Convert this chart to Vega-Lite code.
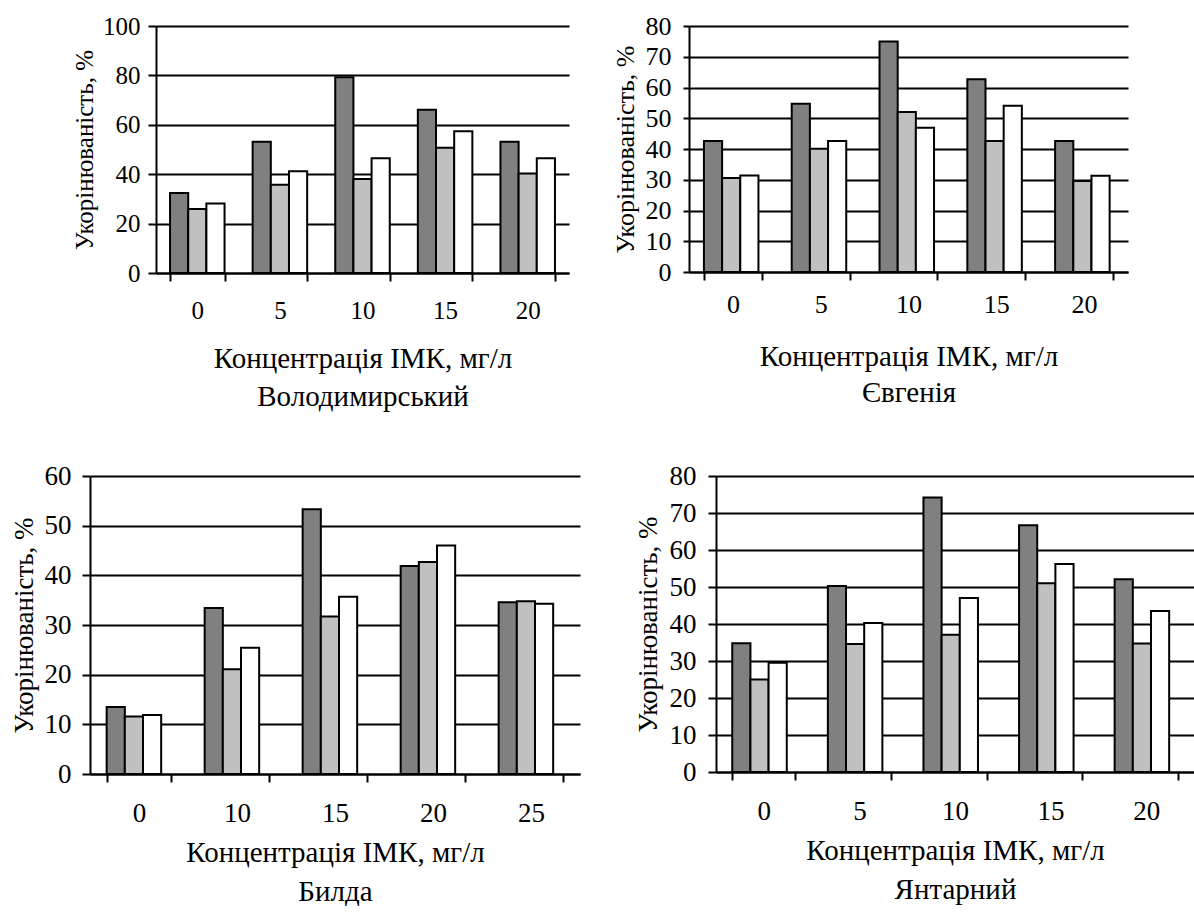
{
  "$schema": "https://vega.github.io/schema/vega-lite/v6.json",
  "background": "white",
  "padding": {"left": 10, "top": 13, "right": 0, "bottom": 0},
  "config": {
    "view": {"stroke": null},
    "font": "Liberation Serif",
    "axis": {
      "labelFont": "Liberation Serif",
      "titleFont": "Liberation Serif",
      "labelColor": "black",
      "titleColor": "black",
      "titleFontWeight": "normal",
      "domainColor": "black",
      "domainWidth": 2,
      "tickColor": "black",
      "tickWidth": 2,
      "gridColor": "black",
      "gridWidth": 2,
      "gridOpacity": 1
    },
    "bar": {"stroke": "black", "strokeWidth": 2}
  },
  "datasets": {
    "d": [
      {"panel": "Володимирський", "conc": 0, "series": "s1", "value": 32.4},
      {"panel": "Володимирський", "conc": 0, "series": "s2", "value": 25.9},
      {"panel": "Володимирський", "conc": 0, "series": "s3", "value": 28.1},
      {"panel": "Володимирський", "conc": 5, "series": "s1", "value": 53.1},
      {"panel": "Володимирський", "conc": 5, "series": "s2", "value": 35.7},
      {"panel": "Володимирський", "conc": 5, "series": "s3", "value": 41.2},
      {"panel": "Володимирський", "conc": 10, "series": "s1", "value": 79.3},
      {"panel": "Володимирський", "conc": 10, "series": "s2", "value": 38.1},
      {"panel": "Володимирський", "conc": 10, "series": "s3", "value": 46.5},
      {"panel": "Володимирський", "conc": 15, "series": "s1", "value": 66.1},
      {"panel": "Володимирський", "conc": 15, "series": "s2", "value": 50.7},
      {"panel": "Володимирський", "conc": 15, "series": "s3", "value": 57.4},
      {"panel": "Володимирський", "conc": 20, "series": "s1", "value": 53.1},
      {"panel": "Володимирський", "conc": 20, "series": "s2", "value": 40.3},
      {"panel": "Володимирський", "conc": 20, "series": "s3", "value": 46.5},
      {"panel": "Євгенія", "conc": 0, "series": "s1", "value": 42.6},
      {"panel": "Євгенія", "conc": 0, "series": "s2", "value": 30.6},
      {"panel": "Євгенія", "conc": 0, "series": "s3", "value": 31.4},
      {"panel": "Євгенія", "conc": 5, "series": "s1", "value": 54.7},
      {"panel": "Євгенія", "conc": 5, "series": "s2", "value": 40.1},
      {"panel": "Євгенія", "conc": 5, "series": "s3", "value": 42.6},
      {"panel": "Євгенія", "conc": 10, "series": "s1", "value": 75.0},
      {"panel": "Євгенія", "conc": 10, "series": "s2", "value": 52.0},
      {"panel": "Євгенія", "conc": 10, "series": "s3", "value": 46.9},
      {"panel": "Євгенія", "conc": 15, "series": "s1", "value": 62.7},
      {"panel": "Євгенія", "conc": 15, "series": "s2", "value": 42.6},
      {"panel": "Євгенія", "conc": 15, "series": "s3", "value": 54.1},
      {"panel": "Євгенія", "conc": 20, "series": "s1", "value": 42.6},
      {"panel": "Євгенія", "conc": 20, "series": "s2", "value": 29.6},
      {"panel": "Євгенія", "conc": 20, "series": "s3", "value": 31.3},
      {"panel": "Билда", "conc": 0, "series": "s1", "value": 13.5},
      {"panel": "Билда", "conc": 0, "series": "s2", "value": 11.6},
      {"panel": "Билда", "conc": 0, "series": "s3", "value": 11.9},
      {"panel": "Билда", "conc": 10, "series": "s1", "value": 33.4},
      {"panel": "Билда", "conc": 10, "series": "s2", "value": 21.1},
      {"panel": "Билда", "conc": 10, "series": "s3", "value": 25.4},
      {"panel": "Билда", "conc": 15, "series": "s1", "value": 53.3},
      {"panel": "Билда", "conc": 15, "series": "s2", "value": 31.7},
      {"panel": "Билда", "conc": 15, "series": "s3", "value": 35.7},
      {"panel": "Билда", "conc": 20, "series": "s1", "value": 41.9},
      {"panel": "Билда", "conc": 20, "series": "s2", "value": 42.7},
      {"panel": "Билда", "conc": 20, "series": "s3", "value": 46.0},
      {"panel": "Билда", "conc": 25, "series": "s1", "value": 34.6},
      {"panel": "Билда", "conc": 25, "series": "s2", "value": 34.8},
      {"panel": "Билда", "conc": 25, "series": "s3", "value": 34.3},
      {"panel": "Янтарний", "conc": 0, "series": "s1", "value": 34.8},
      {"panel": "Янтарний", "conc": 0, "series": "s2", "value": 25.0},
      {"panel": "Янтарний", "conc": 0, "series": "s3", "value": 29.5},
      {"panel": "Янтарний", "conc": 5, "series": "s1", "value": 50.3},
      {"panel": "Янтарний", "conc": 5, "series": "s2", "value": 34.6},
      {"panel": "Янтарний", "conc": 5, "series": "s3", "value": 40.3},
      {"panel": "Янтарний", "conc": 10, "series": "s1", "value": 74.2},
      {"panel": "Янтарний", "conc": 10, "series": "s2", "value": 37.1},
      {"panel": "Янтарний", "conc": 10, "series": "s3", "value": 47.0},
      {"panel": "Янтарний", "conc": 15, "series": "s1", "value": 66.7},
      {"panel": "Янтарний", "conc": 15, "series": "s2", "value": 51.0},
      {"panel": "Янтарний", "conc": 15, "series": "s3", "value": 56.2},
      {"panel": "Янтарний", "conc": 20, "series": "s1", "value": 52.1},
      {"panel": "Янтарний", "conc": 20, "series": "s2", "value": 34.7},
      {"panel": "Янтарний", "conc": 20, "series": "s3", "value": 43.5}
    ]
  },
  "spacing": 51,
  "center": true,
  "vconcat": [
    {
      "spacing": 43,
      "hconcat": [
        {
          "width": 413,
          "height": 247,
          "data": {"name": "d"},
          "transform": [{"filter": "datum.panel == 'Володимирський'"}],
          "mark": {"type": "bar"},
          "encoding": {
            "x": {
              "field": "conc", "type": "ordinal",
              "scale": {"paddingInner": 0.34, "paddingOuter": 0.17},
              "axis": {"title": ["Концентрація ІМК, мг/л", "Володимирський"], "labelAngle": 0, "tickBand": "extent", "tickSize": 8, "labelPadding": 17, "labelFontSize": 25, "titleFontSize": 29, "titlePadding": 21, "titleLineHeight": 38}
            },
            "xOffset": {"field": "series", "type": "nominal"},
            "y": {
              "field": "value", "type": "quantitative",
              "scale": {"domain": [0, 100], "nice": false},
              "axis": {"values": [0, 20, 40, 60, 80, 100], "title": "Укорінюваність, %", "grid": true, "tickSize": 8, "labelPadding": 8, "titlePadding": 5, "labelFontSize": 25, "titleFontSize": 25}
            },
            "fill": {"field": "series", "type": "nominal", "scale": {"domain": ["s1", "s2", "s3"], "range": ["#808080", "#c0c0c0", "#ffffff"]}, "legend": null}
          }
        },
        {
          "width": 439,
          "height": 246,
          "data": {"name": "d"},
          "transform": [{"filter": "datum.panel == 'Євгенія'"}],
          "mark": {"type": "bar"},
          "encoding": {
            "x": {
              "field": "conc", "type": "ordinal",
              "scale": {"paddingInner": 0.34, "paddingOuter": 0.17},
              "axis": {"title": ["Концентрація ІМК, мг/л", "Євгенія"], "labelAngle": 0, "tickBand": "extent", "tickSize": 8, "labelPadding": 11, "labelFontSize": 26, "titleFontSize": 29, "titlePadding": 25, "titleLineHeight": 36}
            },
            "xOffset": {"field": "series", "type": "nominal"},
            "y": {
              "field": "value", "type": "quantitative",
              "scale": {"domain": [0, 80], "nice": false},
              "axis": {"values": [0, 10, 20, 30, 40, 50, 60, 70, 80], "title": "Укорінюваність, %", "grid": true, "tickSize": 6, "labelPadding": 12, "titlePadding": 7, "labelFontSize": 26, "titleFontSize": 26}
            },
            "fill": {"field": "series", "type": "nominal", "scale": {"domain": ["s1", "s2", "s3"], "range": ["#808080", "#c0c0c0", "#ffffff"]}, "legend": null}
          }
        }
      ]
    },
    {
      "spacing": 54,
      "hconcat": [
        {
          "width": 490,
          "height": 298,
          "data": {"name": "d"},
          "transform": [{"filter": "datum.panel == 'Билда'"}],
          "mark": {"type": "bar"},
          "encoding": {
            "x": {
              "field": "conc", "type": "ordinal",
              "scale": {"paddingInner": 0.34, "paddingOuter": 0.17},
              "axis": {"title": ["Концентрація ІМК, мг/л", "Билда"], "labelAngle": 0, "tickBand": "extent", "tickSize": 8, "labelPadding": 18, "labelFontSize": 27, "titleFontSize": 29, "titlePadding": 12, "titleLineHeight": 39}
            },
            "xOffset": {"field": "series", "type": "nominal"},
            "y": {
              "field": "value", "type": "quantitative",
              "scale": {"domain": [0, 60], "nice": false},
              "axis": {"values": [0, 10, 20, 30, 40, 50, 60], "title": "Укорінюваність, %", "grid": true, "tickSize": 8, "labelPadding": 11, "titlePadding": 6, "labelFontSize": 27, "titleFontSize": 27}
            },
            "fill": {"field": "series", "type": "nominal", "scale": {"domain": ["s1", "s2", "s3"], "range": ["#808080", "#c0c0c0", "#ffffff"]}, "legend": null}
          }
        },
        {
          "width": 478,
          "height": 296,
          "data": {"name": "d"},
          "transform": [{"filter": "datum.panel == 'Янтарний'"}],
          "mark": {"type": "bar"},
          "encoding": {
            "x": {
              "field": "conc", "type": "ordinal",
              "scale": {"paddingInner": 0.34, "paddingOuter": 0.17},
              "axis": {"title": ["Концентрація ІМК, мг/л", "Янтарний"], "labelAngle": 0, "tickBand": "extent", "tickSize": 8, "labelPadding": 18, "labelFontSize": 27, "titleFontSize": 29, "titlePadding": 12, "titleLineHeight": 39}
            },
            "xOffset": {"field": "series", "type": "nominal"},
            "y": {
              "field": "value", "type": "quantitative",
              "scale": {"domain": [0, 80], "nice": false},
              "axis": {"values": [0, 10, 20, 30, 40, 50, 60, 70, 80], "title": "Укорінюваність, %", "grid": true, "tickSize": 8, "labelPadding": 12, "titlePadding": 7, "labelFontSize": 27, "titleFontSize": 27}
            },
            "fill": {"field": "series", "type": "nominal", "scale": {"domain": ["s1", "s2", "s3"], "range": ["#808080", "#c0c0c0", "#ffffff"]}, "legend": null}
          }
        }
      ]
    }
  ]
}
